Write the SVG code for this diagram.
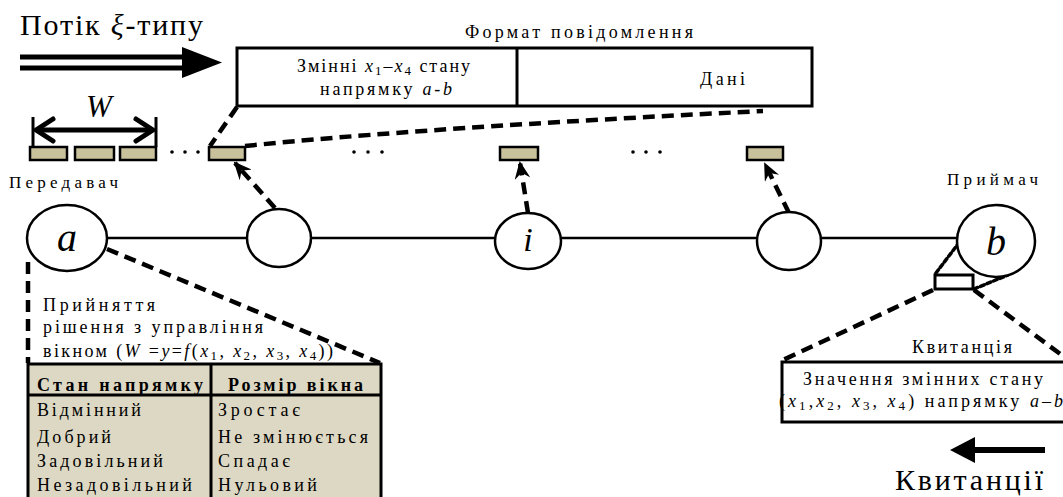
<svg xmlns="http://www.w3.org/2000/svg" width="1063" height="497" viewBox="0 0 1063 497">
<style>
text{font-family:"Liberation Serif","Times New Roman",serif;fill:#000}
.t{font-size:18px}
.it{font-style:italic}
.sub{font-size:13px}
.node{fill:#fff;stroke:#000;stroke-width:2.5}
.link{stroke:#000;stroke-width:2.5;fill:none}
.dash{stroke:#000;stroke-width:4.5;fill:none;stroke-dasharray:12 7}
.dot{stroke:#000;stroke-width:3.5;fill:none;stroke-dasharray:4 3;stroke-linecap:round}
.pkt{fill:#c9c19b;stroke:#000;stroke-width:2.5}
.box{fill:#fff;stroke:#000;stroke-width:3}
.tbl{fill:#ddd8c3;stroke:#000;stroke-width:3}
.b{font-weight:bold}
</style>
<defs>
<marker id="ah" viewBox="0 0 18 16" refX="16" refY="8" markerWidth="18" markerHeight="16" markerUnits="userSpaceOnUse" orient="auto">
<path d="M0,0 L18,8 L0,16 L6,8 z" fill="#000"/>
</marker>
</defs>

<g id="title">
<text x="20" y="35" font-size="30" textLength="183" lengthAdjust="spacing">Потік <tspan class="it">ξ</tspan>-типу</text>
<line x1="20" y1="57" x2="184" y2="57" stroke="#000" stroke-width="5"/>
<line x1="20" y1="68" x2="184" y2="68" stroke="#000" stroke-width="5"/>
<polygon points="182,47 222,62.5 182,78" fill="#000"/>
</g>

<g id="message-format">
<text class="t" x="465" y="38" textLength="228" lengthAdjust="spacing">Формат повідомлення</text>
<rect class="box" x="237" y="48" width="575" height="58"/>
<line x1="517" y1="48" x2="517" y2="106" stroke="#000" stroke-width="3"/>
<text class="t" x="297" y="72" textLength="173" lengthAdjust="spacing">Змінні <tspan class="it">x</tspan><tspan class="sub" dy="3">1</tspan><tspan dy="-3">–</tspan><tspan class="it">x</tspan><tspan class="sub" dy="3">4</tspan><tspan dy="-3"> стану</tspan></text>
<text class="t" x="320" y="95" textLength="132" lengthAdjust="spacing">напрямку <tspan class="it">a-b</tspan></text>
<text class="t" x="700" y="85" textLength="45" lengthAdjust="spacing">Дані</text>
</g>

<g id="window">
<line x1="33" y1="117" x2="33" y2="147" stroke="#000" stroke-width="3"/>
<line x1="156" y1="117" x2="156" y2="147" stroke="#000" stroke-width="3"/>
<line x1="38" y1="130" x2="151" y2="130" stroke="#000" stroke-width="5"/>
<polyline points="53,119 36,130 53,141" fill="none" stroke="#000" stroke-width="5" stroke-linecap="round" stroke-linejoin="round"/>
<polyline points="136,119 153,130 136,141" fill="none" stroke="#000" stroke-width="5" stroke-linecap="round" stroke-linejoin="round"/>
<text x="86" y="117" font-size="31" class="it">W</text>
</g>

<g id="packets">
<rect class="pkt" x="30" y="147" width="37" height="13"/>
<rect class="pkt" x="75" y="147" width="39" height="13"/>
<rect class="pkt" x="120" y="147" width="36" height="13"/>
<rect class="pkt" x="209" y="147" width="36" height="13"/>
<rect class="pkt" x="500" y="147" width="38" height="13"/>
<rect class="pkt" x="747" y="147" width="36" height="13"/>
<g fill="#000">
<circle cx="172" cy="152" r="1.8"/><circle cx="185" cy="152" r="1.8"/><circle cx="198" cy="152" r="1.8"/>
<circle cx="354" cy="152" r="1.8"/><circle cx="368" cy="152" r="1.8"/><circle cx="382" cy="152" r="1.8"/>
<circle cx="633" cy="152" r="1.8"/><circle cx="646" cy="152" r="1.8"/><circle cx="660" cy="152" r="1.8"/>
</g>
</g>

<g id="labels">
<text x="9" y="188" font-size="17" textLength="109" lengthAdjust="spacing">Передавач</text>
<text x="947" y="185" font-size="17" textLength="91" lengthAdjust="spacing">Приймач</text>
</g>

<g id="connectors">
<line class="link" x1="107" y1="238" x2="247" y2="238"/>
<line class="link" x1="311" y1="238" x2="495" y2="238"/>
<line class="link" x1="561" y1="238" x2="757" y2="238"/>
<line class="link" x1="821" y1="238" x2="957" y2="238"/>
<path class="dash" d="M237,107 L210,146"/>
<path class="dash" d="M245,146 Q420,128 763,111"/>
<path class="dash" d="M275,208 L235,163" marker-end="url(#ah)"/>
<path class="dash" d="M528,213 L520,163" marker-end="url(#ah)"/>
<path class="dash" d="M789,213 L765,164" marker-end="url(#ah)"/>
<path class="dash" d="M28,262 L28,363"/>
<path class="dash" d="M107,249 L380,363"/>
<path class="dot" d="M936,273 L958,244"/>
<path class="dot" d="M974,289 L1008,275"/>
<path class="dash" d="M933,290 L783,360"/>
<path class="dash" d="M974,290 L1063,356"/>
</g>

<g id="node-a">
<ellipse class="node" cx="67" cy="238" rx="40" ry="33"/>
<text x="67" y="251" font-size="40" class="it" text-anchor="middle">a</text>
</g>
<g id="node-2">
<ellipse class="node" cx="279" cy="238" rx="32" ry="29"/>
</g>
<g id="node-i">
<ellipse class="node" cx="528" cy="241" rx="33" ry="28"/>
<text x="528" y="251" font-size="34" class="it" text-anchor="middle">i</text>
</g>
<g id="node-4">
<ellipse class="node" cx="789" cy="241" rx="32" ry="29"/>
</g>
<g id="node-b">
<ellipse class="node" cx="996" cy="241" rx="39" ry="36"/>
<text x="996" y="255" font-size="40" class="it" text-anchor="middle">b</text>
</g>

<g id="decision">
<text class="t" x="43" y="311" textLength="112" lengthAdjust="spacing">Прийняття</text>
<text class="t" x="43" y="333" textLength="220" lengthAdjust="spacing">рішення з управління</text>
<text class="t" x="43" y="357" textLength="290" lengthAdjust="spacing">вікном (<tspan class="it">W</tspan> =<tspan class="it">y</tspan>=<tspan class="it">f</tspan>(<tspan class="it">x</tspan><tspan class="sub" dy="3">1</tspan><tspan dy="-3">, </tspan><tspan class="it">x</tspan><tspan class="sub" dy="3">2</tspan><tspan dy="-3">, </tspan><tspan class="it">x</tspan><tspan class="sub" dy="3">3</tspan><tspan dy="-3">, </tspan><tspan class="it">x</tspan><tspan class="sub" dy="3">4</tspan><tspan dy="-3">))</tspan></text>
</g>

<g id="table">
<rect class="tbl" x="28" y="364" width="353" height="140"/>
<line x1="28" y1="395" x2="381" y2="395" stroke="#000" stroke-width="3"/>
<line x1="211" y1="364" x2="211" y2="497" stroke="#000" stroke-width="3"/>
<text class="t b" x="37" y="391" textLength="166" lengthAdjust="spacing">Стан напрямку</text>
<text class="t b" x="228" y="391" textLength="135" lengthAdjust="spacing">Розмір вікна</text>
<text class="t" x="37" y="416" textLength="104" lengthAdjust="spacing">Відмінний</text>
<text class="t" x="37" y="443" textLength="74" lengthAdjust="spacing">Добрий</text>
<text class="t" x="37" y="467" textLength="126" lengthAdjust="spacing">Задовільний</text>
<text class="t" x="37" y="491" textLength="155" lengthAdjust="spacing">Незадовільний</text>
<text class="t" x="218" y="416" textLength="82" lengthAdjust="spacing">Зростає</text>
<text class="t" x="218" y="443" textLength="150" lengthAdjust="spacing">Не змінюється</text>
<text class="t" x="218" y="467" textLength="72" lengthAdjust="spacing">Спадає</text>
<text class="t" x="218" y="491" textLength="99" lengthAdjust="spacing">Нульовий</text>
</g>

<g id="receipt">
<rect class="box" x="935" y="275" width="38" height="14" stroke-width="2.5"/>
<text class="t" x="912" y="353" textLength="100" lengthAdjust="spacing">Квитанція</text>
<rect class="box" x="782" y="362" width="300" height="60"/>
<text class="t" x="803" y="385" textLength="240" lengthAdjust="spacing">Значення змінних стану</text>
<text class="t" x="779" y="407" textLength="284" lengthAdjust="spacing">(<tspan class="it">x</tspan><tspan class="sub" dy="3">1</tspan><tspan dy="-3">,</tspan><tspan class="it">x</tspan><tspan class="sub" dy="3">2</tspan><tspan dy="-3">, </tspan><tspan class="it">x</tspan><tspan class="sub" dy="3">3</tspan><tspan dy="-3">, </tspan><tspan class="it">x</tspan><tspan class="sub" dy="3">4</tspan><tspan dy="-3">) напрямку </tspan><tspan class="it">a–b</tspan></text>
</g>

<g id="ack-flow">
<line x1="970" y1="450" x2="1045" y2="450" stroke="#000" stroke-width="6"/>
<polygon points="950,450 975,437 975,463" fill="#000"/>
<text x="895" y="490" font-size="30" textLength="148" lengthAdjust="spacing">Квитанції</text>
</g>
</svg>
